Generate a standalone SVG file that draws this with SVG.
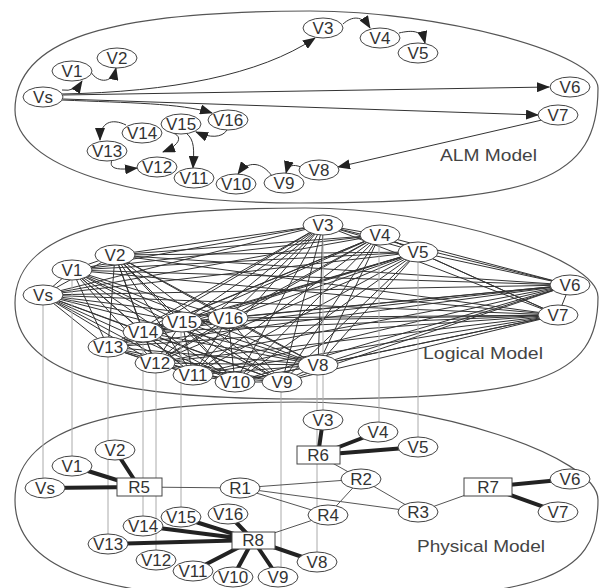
<svg xmlns="http://www.w3.org/2000/svg" width="600" height="588" viewBox="0 0 600 588">
<defs>
<marker id="ah" markerUnits="userSpaceOnUse" markerWidth="13" markerHeight="10" refX="12" refY="5" orient="auto">
<path d="M0,0 L13,5 L0,10 Z" fill="#222"/>
</marker>
</defs>
<style>
.layer{fill:none;stroke:#555;stroke-width:1.2}
.n ellipse,.n rect{fill:#fff;stroke:#444;stroke-width:1}
text{font-family:"Liberation Sans",Arial,sans-serif;font-size:17px;fill:#333;text-anchor:middle}
.lbl{text-anchor:start;fill:#444;font-size:17px}
.mesh{stroke:#333;stroke-width:1;fill:none}
.vert{stroke:#aaa;stroke-width:1;fill:none}
.thick{stroke:#222;stroke-width:4;stroke-linecap:round;fill:none}
.thin{stroke:#555;stroke-width:1;fill:none}
.alm{fill:none;stroke:#333;stroke-width:1;marker-end:url(#ah)}
</style>
<rect width="600" height="588" fill="#fff"/>
<g id="layers">
<path class="layer" d="M15,110 C15,41 103,11 310,11 C440,11 598,53 598,88 C598,180 538,203 300,203 C129,203 15,166 15,110 Z"/>
<path class="layer" d="M15,303 C15,236 102,208 305,208 C437,208 598,257 598,297 C598,379 538,399 300,399 C100,399 15,370 15,303 Z"/>
<path class="layer" d="M15,500 C15,431 100,402 300,402 C430,402 598,456 598,500 C598,580 538,600 300,600 C100,600 15,570 15,500 Z"/>
</g>
<g id="connectors">
<g id="alm-edges">
<path class="alm" d="M62,90 Q75,92 82,81"/>
<path class="alm" d="M90,70 C95,82 112,86 116,68"/>
<path class="alm" d="M62,94 C170,92 260,75 315,38"/>
<path class="alm" d="M343,24 C352,16 362,15 370,28"/>
<path class="alm" d="M399,33 C412,30 422,30 425,43"/>
<path class="alm" d="M63,95 L549,87"/>
<path class="alm" d="M63,99 L538,115"/>
<path class="alm" d="M62,100 C130,103 180,103 212,113"/>
<path class="alm" d="M227,130 C222,138 210,138 196,132"/>
<path class="alm" d="M173,133 C184,137 178,146 163,152"/>
<path class="alm" d="M126,125 C112,118 100,122 100,140"/>
<path class="alm" d="M112,160 C108,170 120,170 137,168"/>
<path class="alm" d="M186,133 C195,140 194,150 193,168"/>
<path class="alm" d="M542,120 L338,167"/>
<path class="alm" d="M301,167 C293,164 288,165 286,173"/>
<path class="alm" d="M272,176 C262,162 248,160 238,174"/>
</g>
<g id="logical-edges">
<path class="mesh" d="M43,295L72,270M43,295L115,255M43,295L323,225M43,295L380,235M43,295L418,252M43,295L570,285M43,295L558,315M43,295L318,365M43,295L282,382M43,295L235,382M43,295L193,375M43,295L155,363M43,295L108,347M43,295L143,332M43,295L182,322M43,295L228,318"/>
<path class="mesh" d="M72,270L115,255M72,270L323,225M72,270L380,235M72,270L418,252M72,270L570,285M72,270L558,315M72,270L318,365M72,270L282,382M72,270L235,382M72,270L193,375M72,270L155,363M72,270L108,347M72,270L143,332M72,270L182,322M72,270L228,318"/>
<path class="mesh" d="M115,255L323,225M115,255L380,235M115,255L418,252M115,255L570,285M115,255L558,315M115,255L318,365M115,255L282,382M115,255L235,382M115,255L193,375M115,255L155,363M115,255L108,347M115,255L143,332M115,255L182,322M115,255L228,318"/>
<path class="mesh" d="M323,225L380,235M323,225L418,252M323,225L570,285M323,225L558,315M323,225L318,365M323,225L282,382M323,225L235,382M323,225L193,375M323,225L155,363M323,225L108,347M323,225L143,332M323,225L182,322M323,225L228,318"/>
<path class="mesh" d="M380,235L418,252M380,235L570,285M380,235L558,315M380,235L318,365M380,235L282,382M380,235L235,382M380,235L193,375M380,235L155,363M380,235L108,347M380,235L143,332M380,235L182,322M380,235L228,318"/>
<path class="mesh" d="M418,252L570,285M418,252L558,315M418,252L318,365M418,252L282,382M418,252L235,382M418,252L193,375M418,252L155,363M418,252L108,347M418,252L143,332M418,252L182,322M418,252L228,318"/>
<path class="mesh" d="M570,285L558,315M570,285L318,365M570,285L282,382M570,285L235,382M570,285L193,375M570,285L155,363M570,285L108,347M570,285L143,332M570,285L182,322M570,285L228,318"/>
<path class="mesh" d="M558,315L318,365M558,315L282,382M558,315L235,382M558,315L193,375M558,315L155,363M558,315L108,347M558,315L143,332M558,315L182,322M558,315L228,318"/>
<path class="mesh" d="M318,365L282,382M318,365L235,382M318,365L193,375M318,365L155,363M318,365L108,347M318,365L143,332M318,365L182,322M318,365L228,318"/>
<path class="mesh" d="M282,382L235,382M282,382L193,375M282,382L155,363M282,382L108,347M282,382L143,332M282,382L182,322M282,382L228,318"/>
<path class="mesh" d="M235,382L193,375M235,382L155,363M235,382L108,347M235,382L143,332M235,382L182,322M235,382L228,318"/>
<path class="mesh" d="M193,375L155,363M193,375L108,347M193,375L143,332M193,375L182,322M193,375L228,318"/>
<path class="mesh" d="M155,363L108,347M155,363L143,332M155,363L182,322M155,363L228,318"/>
<path class="mesh" d="M108,347L143,332M108,347L182,322M108,347L228,318M143,332L182,322M143,332L228,318M182,322L228,318"/>
</g>
<g id="mapping-edges">
<path class="vert" d="M43,295V488M72,270V466M108,347V544M143,332V526M156,363V560M181,322V517M281,382V577M317,365V562M323,225V420M379,235V432M418,252V447"/>
</g>
<g id="physical-edges">
<path class="thin" d="M139,487L240,488M240,488L361,479M240,488L328,515M240,488L418,512M318,455L361,479M361,479L328,515M361,479L418,512M418,512L488,487M328,515L253,540"/>
<path class="thick" d="M45,488L139,487M72,466L139,487M115,450L139,487M323,420L318,455M378,432L318,455M418,447L318,455M570,479L488,487M558,512L488,487M108,544L253,540M143,526L253,540M180,517L253,540M228,514L253,540M193,571L253,540M233,577L253,540M278,577L253,540M317,562L253,540"/>
</g>
</g>
<g id="alm-nodes">
<g id="alm-Vs" class="n"><ellipse cx="43" cy="97" rx="20" ry="10"/><text x="43" y="103">Vs</text></g>
<g id="alm-V1" class="n"><ellipse cx="72" cy="71" rx="20" ry="10"/><text x="72" y="77">V1</text></g>
<g id="alm-V2" class="n"><ellipse cx="117" cy="58" rx="20" ry="10"/><text x="117" y="64">V2</text></g>
<g id="alm-V3" class="n"><ellipse cx="323" cy="28" rx="20" ry="10"/><text x="323" y="34">V3</text></g>
<g id="alm-V4" class="n"><ellipse cx="380" cy="38" rx="20" ry="10"/><text x="380" y="44">V4</text></g>
<g id="alm-V5" class="n"><ellipse cx="418" cy="53" rx="20" ry="10"/><text x="418" y="59">V5</text></g>
<g id="alm-V6" class="n"><ellipse cx="570" cy="87" rx="20" ry="10"/><text x="570" y="93">V6</text></g>
<g id="alm-V7" class="n"><ellipse cx="558" cy="115" rx="20" ry="10"/><text x="558" y="121">V7</text></g>
<g id="alm-V8" class="n"><ellipse cx="319" cy="170" rx="20" ry="10"/><text x="319" y="176">V8</text></g>
<g id="alm-V9" class="n"><ellipse cx="284" cy="183" rx="20" ry="10"/><text x="284" y="189">V9</text></g>
<g id="alm-V10" class="n"><ellipse cx="236" cy="184" rx="20" ry="10"/><text x="236" y="190">V10</text></g>
<g id="alm-V11" class="n"><ellipse cx="194" cy="178" rx="20" ry="10"/><text x="194" y="184">V11</text></g>
<g id="alm-V12" class="n"><ellipse cx="157" cy="167" rx="20" ry="10"/><text x="157" y="173">V12</text></g>
<g id="alm-V13" class="n"><ellipse cx="107" cy="151" rx="20" ry="10"/><text x="107" y="157">V13</text></g>
<g id="alm-V14" class="n"><ellipse cx="142" cy="133" rx="20" ry="10"/><text x="142" y="139">V14</text></g>
<g id="alm-V15" class="n"><ellipse cx="181" cy="124" rx="20" ry="10"/><text x="181" y="130">V15</text></g>
<g id="alm-V16" class="n"><ellipse cx="228" cy="120" rx="20" ry="10"/><text x="228" y="126">V16</text></g>
</g>
<g id="logical-nodes">
<g id="log-Vs" class="n"><ellipse cx="43" cy="295" rx="20" ry="10"/><text x="43" y="301">Vs</text></g>
<g id="log-V1" class="n"><ellipse cx="72" cy="270" rx="20" ry="10"/><text x="72" y="276">V1</text></g>
<g id="log-V2" class="n"><ellipse cx="115" cy="255" rx="20" ry="10"/><text x="115" y="261">V2</text></g>
<g id="log-V3" class="n"><ellipse cx="323" cy="225" rx="20" ry="10"/><text x="323" y="231">V3</text></g>
<g id="log-V4" class="n"><ellipse cx="380" cy="235" rx="20" ry="10"/><text x="380" y="241">V4</text></g>
<g id="log-V5" class="n"><ellipse cx="418" cy="252" rx="20" ry="10"/><text x="418" y="258">V5</text></g>
<g id="log-V6" class="n"><ellipse cx="570" cy="285" rx="20" ry="10"/><text x="570" y="291">V6</text></g>
<g id="log-V7" class="n"><ellipse cx="558" cy="315" rx="20" ry="10"/><text x="558" y="321">V7</text></g>
<g id="log-V8" class="n"><ellipse cx="318" cy="365" rx="20" ry="10"/><text x="318" y="371">V8</text></g>
<g id="log-V9" class="n"><ellipse cx="282" cy="382" rx="20" ry="10"/><text x="282" y="388">V9</text></g>
<g id="log-V10" class="n"><ellipse cx="235" cy="382" rx="20" ry="10"/><text x="235" y="388">V10</text></g>
<g id="log-V11" class="n"><ellipse cx="193" cy="375" rx="20" ry="10"/><text x="193" y="381">V11</text></g>
<g id="log-V12" class="n"><ellipse cx="155" cy="363" rx="20" ry="10"/><text x="155" y="369">V12</text></g>
<g id="log-V13" class="n"><ellipse cx="108" cy="347" rx="20" ry="10"/><text x="108" y="353">V13</text></g>
<g id="log-V14" class="n"><ellipse cx="143" cy="332" rx="20" ry="10"/><text x="143" y="338">V14</text></g>
<g id="log-V15" class="n"><ellipse cx="182" cy="322" rx="20" ry="10"/><text x="182" y="328">V15</text></g>
<g id="log-V16" class="n"><ellipse cx="228" cy="318" rx="20" ry="10"/><text x="228" y="324">V16</text></g>
</g>
<g id="physical-nodes">
<g id="phy-Vs" class="n"><ellipse cx="45" cy="488" rx="20" ry="10"/><text x="45" y="494">Vs</text></g>
<g id="phy-V1" class="n"><ellipse cx="72" cy="466" rx="20" ry="10"/><text x="72" y="472">V1</text></g>
<g id="phy-V2" class="n"><ellipse cx="115" cy="450" rx="20" ry="10"/><text x="115" y="456">V2</text></g>
<g id="phy-R5" class="n"><rect x="117" y="478" width="45" height="18"/><text x="139" y="493">R5</text></g>
<g id="phy-R1" class="n"><ellipse cx="240" cy="488" rx="20" ry="10"/><text x="240" y="494">R1</text></g>
<g id="phy-R2" class="n"><ellipse cx="361" cy="479" rx="20" ry="10"/><text x="361" y="485">R2</text></g>
<g id="phy-R3" class="n"><ellipse cx="418" cy="512" rx="20" ry="10"/><text x="418" y="518">R3</text></g>
<g id="phy-R4" class="n"><ellipse cx="328" cy="515" rx="20" ry="10"/><text x="328" y="521">R4</text></g>
<g id="phy-R6" class="n"><rect x="297" y="446" width="43" height="18"/><text x="318" y="461">R6</text></g>
<g id="phy-R7" class="n"><rect x="464" y="478" width="48" height="18"/><text x="488" y="493">R7</text></g>
<g id="phy-R8" class="n"><rect x="232" y="532" width="43" height="17"/><text x="253" y="546">R8</text></g>
<g id="phy-V3" class="n"><ellipse cx="323" cy="420" rx="20" ry="10"/><text x="323" y="426">V3</text></g>
<g id="phy-V4" class="n"><ellipse cx="378" cy="432" rx="20" ry="10"/><text x="378" y="438">V4</text></g>
<g id="phy-V5" class="n"><ellipse cx="418" cy="447" rx="20" ry="10"/><text x="418" y="453">V5</text></g>
<g id="phy-V6" class="n"><ellipse cx="570" cy="479" rx="20" ry="10"/><text x="570" y="485">V6</text></g>
<g id="phy-V7" class="n"><ellipse cx="558" cy="512" rx="20" ry="10"/><text x="558" y="518">V7</text></g>
<g id="phy-V8" class="n"><ellipse cx="317" cy="562" rx="20" ry="10"/><text x="317" y="568">V8</text></g>
<g id="phy-V9" class="n"><ellipse cx="278" cy="577" rx="20" ry="10"/><text x="278" y="583">V9</text></g>
<g id="phy-V10" class="n"><ellipse cx="233" cy="577" rx="20" ry="10"/><text x="233" y="583">V10</text></g>
<g id="phy-V11" class="n"><ellipse cx="193" cy="571" rx="20" ry="10"/><text x="193" y="577">V11</text></g>
<g id="phy-V12" class="n"><ellipse cx="156" cy="560" rx="20" ry="10"/><text x="156" y="566">V12</text></g>
<g id="phy-V13" class="n"><ellipse cx="108" cy="544" rx="20" ry="10"/><text x="108" y="550">V13</text></g>
<g id="phy-V14" class="n"><ellipse cx="143" cy="526" rx="20" ry="10"/><text x="143" y="532">V14</text></g>
<g id="phy-V15" class="n"><ellipse cx="181" cy="517" rx="20" ry="10"/><text x="181" y="523">V15</text></g>
<g id="phy-V16" class="n"><ellipse cx="228" cy="514" rx="20" ry="10"/><text x="228" y="520">V16</text></g>
</g>
<g id="labels">
<text class="lbl" x="440" y="161" textLength="97" lengthAdjust="spacingAndGlyphs">ALM Model</text>
<text class="lbl" x="423" y="359" textLength="120" lengthAdjust="spacingAndGlyphs">Logical Model</text>
<text class="lbl" x="417" y="552" textLength="128" lengthAdjust="spacingAndGlyphs">Physical Model</text>
</g>
</svg>
